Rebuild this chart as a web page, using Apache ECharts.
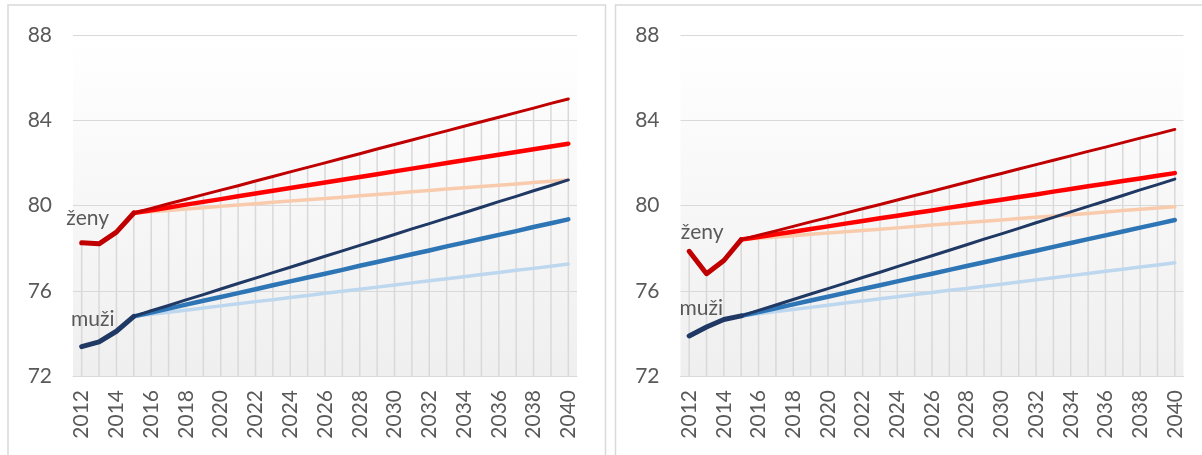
<!DOCTYPE html>
<html>
<head>
<meta charset="utf-8">
<script src="https://cdn.jsdelivr.net/npm/echarts@6/dist/echarts.min.js"></script>
<style>
  html, body { margin: 0; padding: 0; background: #fff; }
  #chart { width: 1202px; height: 455px; }
</style>
</head>
<body>
<div id="chart"></div>
<script>
const years = ['2012','2013','2014','2015','2016','2017','2018','2019','2020','2021','2022','2023','2024','2025','2026','2027','2028','2029','2030','2031','2032','2033','2034','2035','2036','2037','2038','2039','2040'];

// left panel - history 2012-2015
const leftWomenHist = [78.25, 78.2, 78.75, 79.65];
const leftMenHist = [73.38, 73.6, 74.1, 74.8];
// left panel - projections 2015-2040
const leftWomenHigh = [79.65, 79.86, 80.08, 80.29, 80.51, 80.72, 80.93, 81.15, 81.36, 81.58, 81.79, 82.00, 82.22, 82.43, 82.65, 82.86, 83.07, 83.29, 83.50, 83.72, 83.93, 84.14, 84.36, 84.57, 84.79, 85.00];
const leftWomenMid = [79.65, 79.78, 79.91, 80.04, 80.17, 80.30, 80.43, 80.56, 80.69, 80.82, 80.95, 81.08, 81.21, 81.34, 81.47, 81.60, 81.73, 81.86, 81.99, 82.12, 82.25, 82.38, 82.51, 82.64, 82.77, 82.90];
const leftWomenLow = [79.65, 79.71, 79.77, 79.84, 79.90, 79.96, 80.02, 80.08, 80.15, 80.21, 80.27, 80.33, 80.39, 80.46, 80.52, 80.58, 80.64, 80.70, 80.77, 80.83, 80.89, 80.95, 81.01, 81.08, 81.14, 81.20];
const leftMenHigh = [74.80, 75.06, 75.31, 75.57, 75.82, 76.08, 76.34, 76.59, 76.85, 77.10, 77.36, 77.62, 77.87, 78.13, 78.38, 78.64, 78.90, 79.15, 79.41, 79.66, 79.92, 80.18, 80.43, 80.69, 80.94, 81.20];
const leftMenMid = [74.80, 74.98, 75.16, 75.35, 75.53, 75.71, 75.89, 76.07, 76.26, 76.44, 76.62, 76.80, 76.98, 77.17, 77.35, 77.53, 77.71, 77.89, 78.08, 78.26, 78.44, 78.62, 78.80, 78.99, 79.17, 79.35];
const leftMenLow = [74.80, 74.90, 74.99, 75.09, 75.19, 75.29, 75.39, 75.49, 75.58, 75.68, 75.78, 75.88, 75.98, 76.07, 76.17, 76.27, 76.37, 76.47, 76.56, 76.66, 76.76, 76.86, 76.96, 77.05, 77.15, 77.25];

// right panel
const rightWomenHist = [77.85, 76.8, 77.42, 78.4];
const rightMenHist = [73.88, 74.3, 74.65, 74.82];
const rightWomenHigh = [78.40, 78.61, 78.81, 79.02, 79.23, 79.43, 79.64, 79.85, 80.05, 80.26, 80.47, 80.67, 80.88, 81.09, 81.30, 81.50, 81.71, 81.92, 82.12, 82.33, 82.54, 82.74, 82.95, 83.16, 83.36, 83.57];
const rightWomenMid = [78.40, 78.52, 78.65, 78.77, 78.90, 79.02, 79.15, 79.27, 79.40, 79.52, 79.65, 79.77, 79.90, 80.02, 80.15, 80.27, 80.40, 80.52, 80.65, 80.77, 80.90, 81.02, 81.15, 81.27, 81.40, 81.52];
const rightWomenLow = [78.40, 78.46, 78.52, 78.58, 78.65, 78.71, 78.77, 78.83, 78.89, 78.95, 79.02, 79.08, 79.14, 79.20, 79.26, 79.32, 79.39, 79.45, 79.51, 79.57, 79.63, 79.69, 79.76, 79.82, 79.88, 79.94];
const rightMenHigh = [74.82, 75.08, 75.33, 75.59, 75.85, 76.10, 76.36, 76.62, 76.87, 77.13, 77.39, 77.64, 77.90, 78.16, 78.42, 78.67, 78.93, 79.19, 79.44, 79.70, 79.96, 80.21, 80.47, 80.73, 80.98, 81.24];
const rightMenMid = [74.82, 75.00, 75.18, 75.36, 75.54, 75.72, 75.90, 76.08, 76.26, 76.44, 76.62, 76.80, 76.98, 77.16, 77.34, 77.52, 77.70, 77.88, 78.06, 78.24, 78.42, 78.60, 78.78, 78.96, 79.14, 79.32];
const rightMenLow = [74.82, 74.92, 75.02, 75.12, 75.22, 75.32, 75.42, 75.52, 75.62, 75.72, 75.82, 75.92, 76.02, 76.11, 76.21, 76.31, 76.41, 76.51, 76.61, 76.71, 76.81, 76.91, 77.01, 77.11, 77.21, 77.31];

const labelColor = '#595959';
const gridColor = '#d9d9d9';
const font = 'Lato';

function hist(arr) {
    return years.map((y, i) => i < arr.length ? arr[i] : null);
}
function proj(arr) {
    const start = years.length - arr.length;
    return years.map((y, i) => i >= start ? arr[i - start] : null);
}
function line(idx, data, color, width, z) {
    return {
        type: 'line', xAxisIndex: idx, yAxisIndex: idx, data: data,
        symbol: 'none', smooth: false, silent: true, z: z,
        lineStyle: { color: color, width: width, cap: 'round', join: 'round' }
    };
}
// drop lines up to the highest curve at each year
function dropLines(idx, all) {
    const data = years.map((y, i) => {
        let m = null;
        all.forEach(s => { if (s[i] != null && (m == null || s[i] > m)) m = s[i]; });
        return m;
    });
    return {
        type: 'bar', xAxisIndex: idx, yAxisIndex: idx, data: data, barWidth: 1.5,
        silent: true, z: 1, itemStyle: { color: gridColor }
    };
}
function panelSeries(idx, wh, mh, wHigh, wMid, wLow, mHigh, mMid, mLow) {
    const all = [hist(wh), hist(mh), proj(wHigh), proj(wMid), proj(wLow), proj(mHigh), proj(mMid), proj(mLow)];
    return [
        dropLines(idx, all),
        line(idx, proj(wLow), '#f8cbad', 3.5, 3),
        line(idx, proj(mLow), '#bdd7ee', 3.5, 3),
        line(idx, proj(wMid), '#ff0000', 4.5, 4),
        line(idx, proj(mMid), '#2e75b6', 4.5, 4),
        line(idx, proj(wHigh), '#c00000', 3, 5),
        line(idx, proj(mHigh), '#1f3864', 3, 5),
        line(idx, hist(wh), '#c00000', 5, 6),
        line(idx, hist(mh), '#1f3864', 5, 6)
    ];
}

const bg = new echarts.graphic.LinearGradient(0, 0, 0, 1, [
    { offset: 0, color: '#ffffff' },
    { offset: 0.13, color: '#fdfdfd' },
    { offset: 1, color: '#efefef' }
]);

function xAxis(idx) {
    return {
        type: 'category', gridIndex: idx, data: years, boundaryGap: true,
        axisTick: { show: false },
        axisLine: { lineStyle: { color: gridColor, width: 1 } },
        axisLabel: { interval: 1, rotate: 90, margin: 14, fontSize: 21, color: labelColor, fontFamily: font }
    };
}
function yAxis(idx) {
    return {
        type: 'value', gridIndex: idx, min: 72, max: 88, interval: 4,
        axisLine: { show: false }, axisTick: { show: false },
        splitLine: { lineStyle: { color: gridColor, width: 1 } },
        axisLabel: { margin: 21, fontSize: 21, color: labelColor, fontFamily: font }
    };
}

const chart = echarts.init(document.getElementById('chart'));
const option = {
    animation: false,
    backgroundColor: '#ffffff',
    grid: [
        { left: 73, top: 35, width: 504, height: 341, show: true, backgroundColor: bg, borderWidth: 0 },
        { left: 680.5, top: 35, width: 503, height: 341, show: true, backgroundColor: bg, borderWidth: 0 }
    ],
    xAxis: [xAxis(0), xAxis(1)],
    yAxis: [yAxis(0), yAxis(1)],
    series: [].concat(
        panelSeries(0, leftWomenHist, leftMenHist, leftWomenHigh, leftWomenMid, leftWomenLow, leftMenHigh, leftMenMid, leftMenLow),
        panelSeries(1, rightWomenHist, rightMenHist, rightWomenHigh, rightWomenMid, rightWomenLow, rightMenHigh, rightMenMid, rightMenLow)
    )
};
chart.setOption(option);

// series names written next to the first point of each history line
function nameLabel(idx, value, text, dx, dy) {
    const p = chart.convertToPixel({ gridIndex: idx }, [years[0], value]);
    return {
        type: 'text', x: p[0] + dx, y: p[1] + dy, silent: true, z: 10,
        style: { text: text, fill: labelColor, fontSize: 21, fontFamily: font, align: 'center', verticalAlign: 'middle' }
    };
}
chart.setOption({
    graphic: [
        { type: 'rect', shape: { x: 8, y: 5, width: 597.5, height: 500 }, style: { fill: null, stroke: '#d9d9d9', lineWidth: 1.5 }, silent: true, z: -1 },
        { type: 'rect', shape: { x: 615.5, y: 5, width: 600, height: 500 }, style: { fill: null, stroke: '#d9d9d9', lineWidth: 1.5 }, silent: true, z: -1 },
        nameLabel(0, leftWomenHist[0], 'ženy', 6, -25),
        nameLabel(0, leftMenHist[0], 'muži', 11, -27),
        nameLabel(1, rightWomenHist[0], 'ženy', 13, -19),
        nameLabel(1, rightMenHist[0], 'muži', 12, -28)
    ]
});
</script>
</body>
</html>
